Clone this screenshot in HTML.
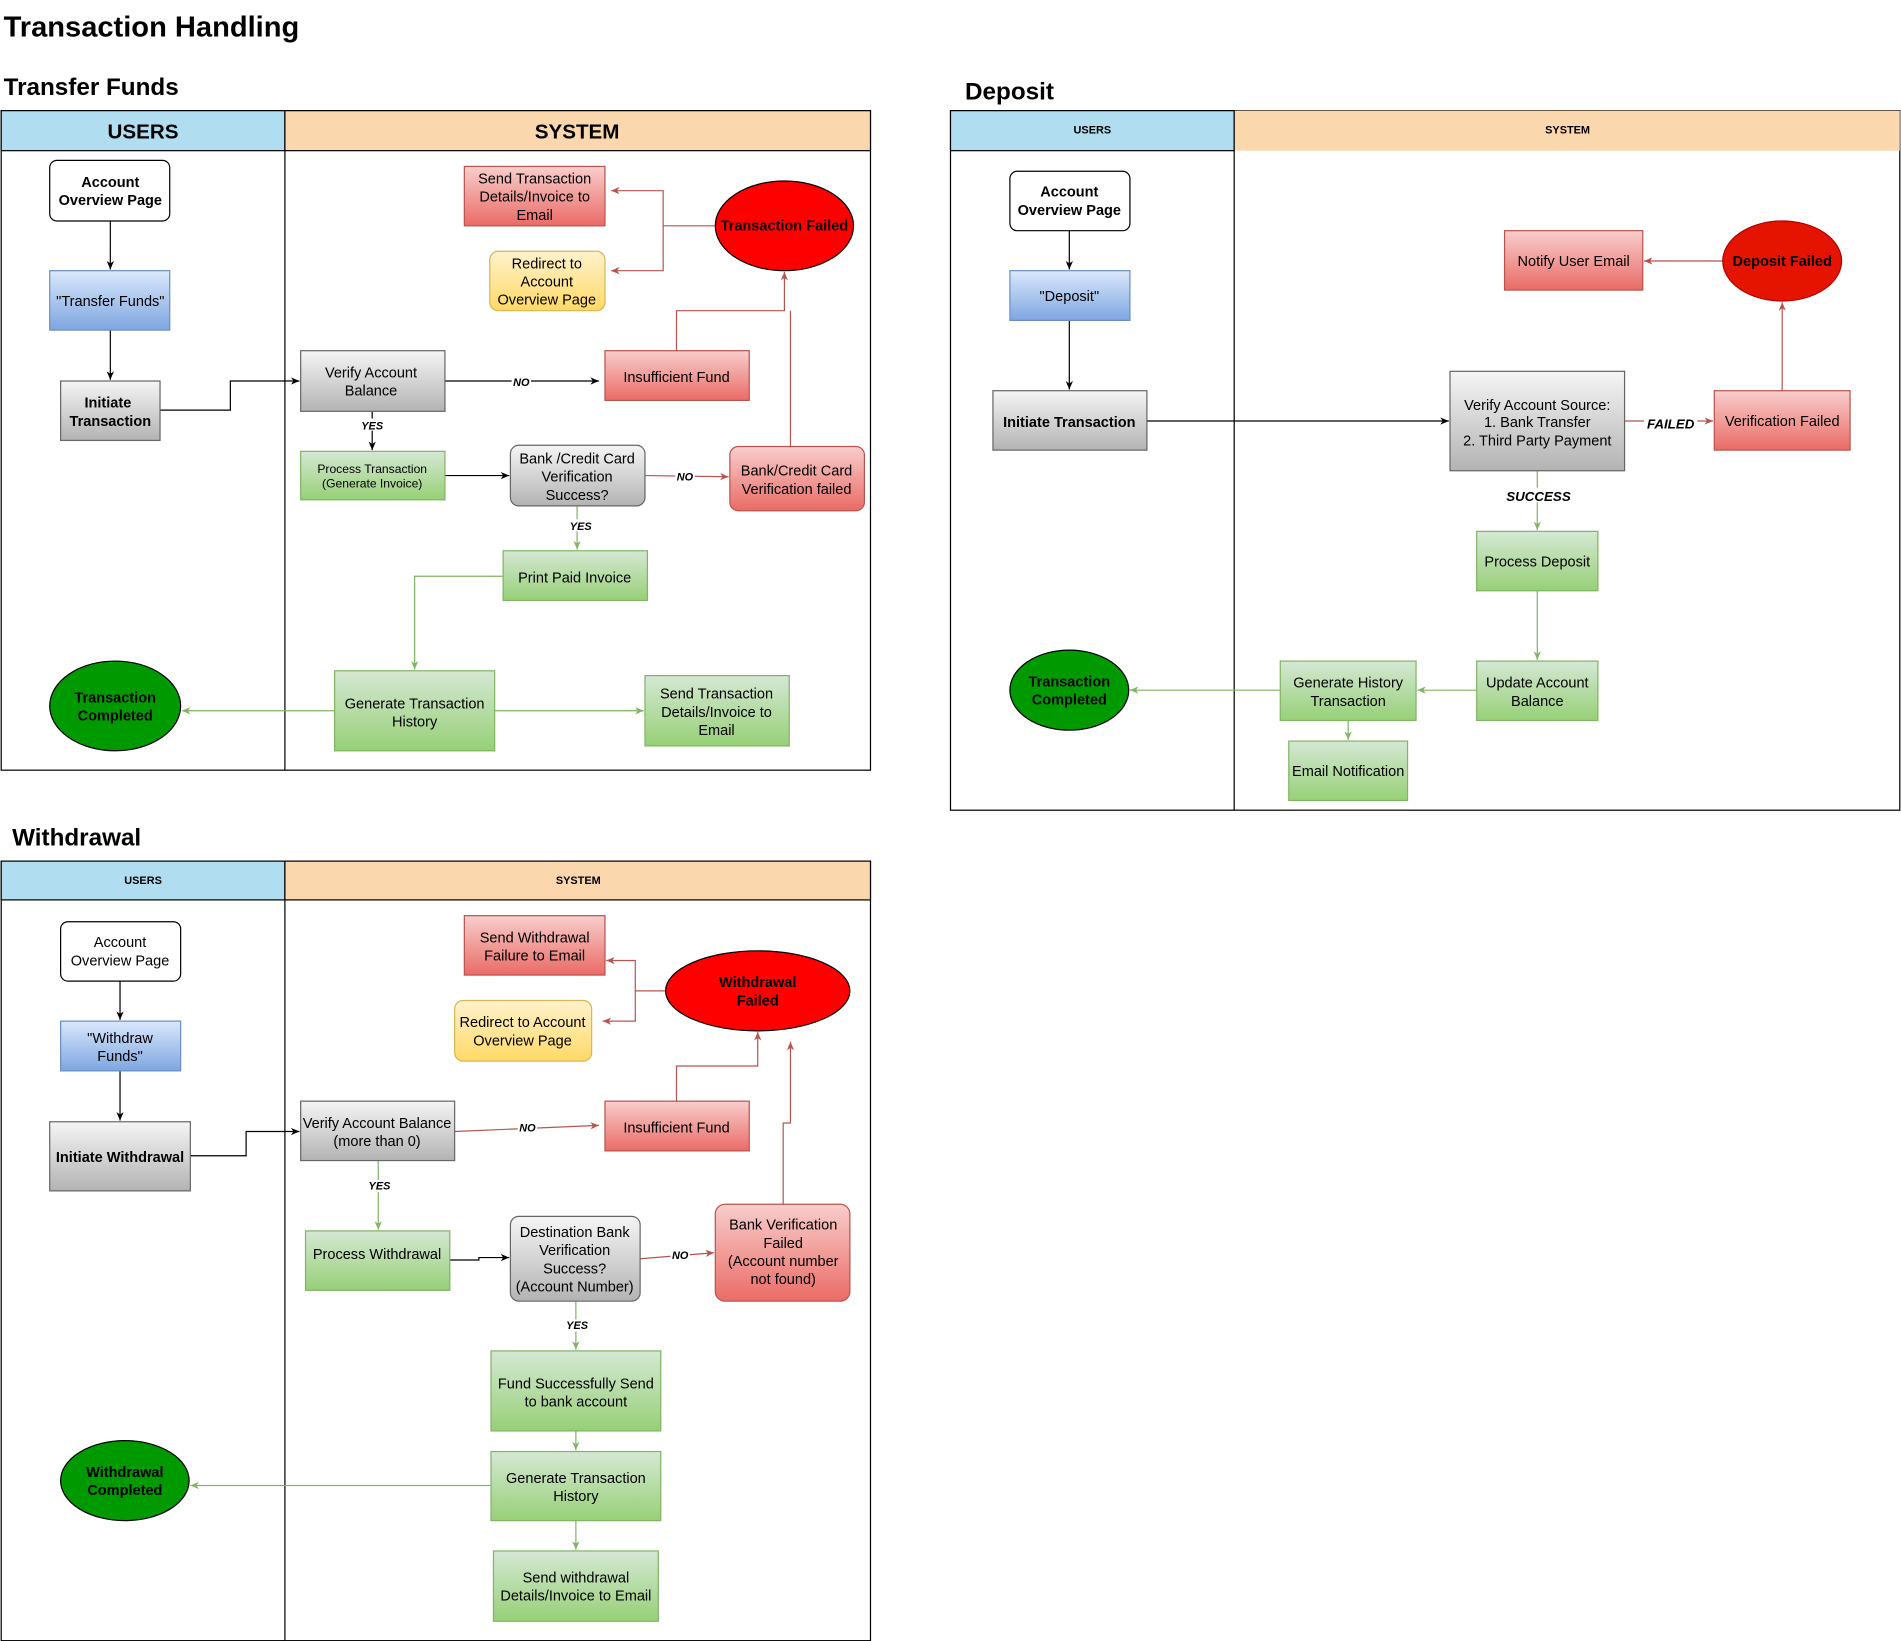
<!DOCTYPE html>
<html><head><meta charset="utf-8"><style>
html,body{margin:0;padding:0;background:#fff}
svg{display:block}
text{font-family:"Liberation Sans",Arial,sans-serif;font-size:12px;fill:#000;text-anchor:middle}
.b{font-weight:bold}
.lb{font-size:9px;font-weight:bold;font-style:italic}
.k{stroke:#000;fill:none;stroke-width:1}
.r{stroke:#b85450;fill:none;stroke-width:1}
.g{stroke:#82b366;fill:none;stroke-width:1}
</style></head><body>
<svg width="1901" height="1641" viewBox="0 0 1568 1353" xmlns="http://www.w3.org/2000/svg">
<defs>
<linearGradient id="gy" x1="0" y1="0" x2="0" y2="1"><stop offset="0" stop-color="#f5f5f5"/><stop offset="1" stop-color="#b3b3b3"/></linearGradient>
<linearGradient id="gg" x1="0" y1="0" x2="0" y2="1"><stop offset="0" stop-color="#d5e8d4"/><stop offset="1" stop-color="#97d077"/></linearGradient>
<linearGradient id="gr" x1="0" y1="0" x2="0" y2="1"><stop offset="0" stop-color="#f8cecc"/><stop offset="1" stop-color="#ea6b66"/></linearGradient>
<linearGradient id="gb" x1="0" y1="0" x2="0" y2="1"><stop offset="0" stop-color="#dae8fc"/><stop offset="1" stop-color="#7ea6e0"/></linearGradient>
<linearGradient id="gyl" x1="0" y1="0" x2="0" y2="1"><stop offset="0" stop-color="#fff2cc"/><stop offset="1" stop-color="#ffd966"/></linearGradient>
<marker id="ak" markerWidth="8" markerHeight="8" refX="7" refY="4" orient="auto" markerUnits="userSpaceOnUse"><path d="M0,1 L7,4 L0,7 L2,4z" fill="#000"/></marker>
<marker id="ar" markerWidth="8" markerHeight="8" refX="7" refY="4" orient="auto" markerUnits="userSpaceOnUse"><path d="M0,1 L7,4 L0,7 L2,4z" fill="#b85450"/></marker>
<marker id="ag" markerWidth="8" markerHeight="8" refX="7" refY="4" orient="auto" markerUnits="userSpaceOnUse"><path d="M0,1 L7,4 L0,7 L2,4z" fill="#82b366"/></marker>
</defs>

<text x="3" y="30" class="b" style="font-size:24px;text-anchor:start">Transaction Handling</text>
<text x="3" y="78" class="b" style="font-size:20px;text-anchor:start">Transfer Funds</text>
<text x="796" y="82" class="b" style="font-size:20px;text-anchor:start">Deposit</text>
<text x="10" y="697" class="b" style="font-size:20px;text-anchor:start">Withdrawal</text>

<!-- pools -->
<g stroke="#000" stroke-width="1">
<rect x="1" y="91" width="717" height="544" fill="#fff"/>
<rect x="1" y="91" width="234" height="33" fill="#b1ddf0"/>
<rect x="235" y="91" width="483" height="33" fill="#fad7ac"/>
<line x1="235" y1="124" x2="235" y2="635"/>
<rect x="784" y="91" width="783" height="577" fill="#fff"/>
<rect x="784" y="91" width="234" height="33" fill="#b1ddf0"/>
<rect x="1018" y="91" width="549" height="33" fill="#fad7ac" stroke="none"/>
<line x1="1018" y1="91" x2="1018" y2="668"/>
<rect x="1" y="710" width="717" height="643" fill="#fff"/>
<rect x="1" y="710" width="234" height="32" fill="#b1ddf0"/>
<rect x="235" y="710" width="483" height="32" fill="#fad7ac"/>
<line x1="235" y1="742" x2="235" y2="1353"/>
</g>
<text x="118" y="114" class="b" style="font-size:17px">USERS</text>
<text x="476" y="114" class="b" style="font-size:17px">SYSTEM</text>
<text x="901" y="110" class="b" style="font-size:9px">USERS</text>
<text x="1293" y="110" class="b" style="font-size:9px">SYSTEM</text>
<text x="118" y="729" class="b" style="font-size:9px">USERS</text>
<text x="477" y="729" class="b" style="font-size:9px">SYSTEM</text>

<!-- ===== TRANSFER edges ===== -->
<path class="k" d="M91,182V222" marker-end="url(#ak)"/>
<path class="k" d="M91,272V313" marker-end="url(#ak)"/>
<path class="k" d="M132,338H190V314H247" marker-end="url(#ak)"/>
<path class="k" d="M367,314H494" marker-end="url(#ak)"/>
<path class="k" d="M307,339V371" marker-end="url(#ak)"/>
<path class="k" d="M367,392H420" marker-end="url(#ak)"/>
<path class="r" d="M532,392L601,393" marker-end="url(#ar)"/>
<path class="g" d="M476,417V453" marker-end="url(#ag)"/>
<path class="g" d="M415,475H342V552" marker-end="url(#ag)"/>
<path class="g" d="M276,586H150" marker-end="url(#ag)"/>
<path class="g" d="M408,586H531" marker-end="url(#ag)"/>
<path class="r" d="M558,289V256H647V224" marker-end="url(#ar)"/>
<path class="r" d="M652,368V256"/>
<path class="r" d="M590,186H547V157H504" marker-end="url(#ar)"/>
<path class="r" d="M547,186V223H504" marker-end="url(#ar)"/>
<rect x="422" y="309" width="16" height="10" fill="#fff"/><text x="430" y="318" class="lb">NO</text>
<rect x="297" y="345" width="20" height="10" fill="#fff"/><text x="307" y="354" class="lb">YES</text>
<rect x="557" y="388" width="16" height="10" fill="#fff"/><text x="565" y="396" class="lb">NO</text>
<rect x="469" y="428" width="20" height="10" fill="#fff"/><text x="479" y="437" class="lb">YES</text>

<!-- TRANSFER nodes -->
<rect x="41" y="132" width="99" height="50" rx="6" fill="#fff" stroke="#000"/>
<text x="91" y="154" class="b">Account</text><text x="91" y="169" class="b">Overview Page</text>
<rect x="41" y="223" width="99" height="49" fill="url(#gb)" stroke="#6c8ebf"/>
<text x="91" y="252">"Transfer Funds"</text>
<rect x="50" y="314" width="82" height="49" fill="url(#gy)" stroke="#666"/>
<text x="89" y="336" class="b">Initiate</text><text x="91" y="351" class="b">Transaction</text>
<rect x="248" y="289" width="119" height="50" fill="url(#gy)" stroke="#666"/>
<text x="306" y="311">Verify Account</text><text x="306" y="326">Balance</text>
<rect x="499" y="289" width="119" height="41" fill="url(#gr)" stroke="#b85450"/>
<text x="558" y="315">Insufficient Fund</text>
<rect x="248" y="372" width="119" height="40" fill="url(#gg)" stroke="#82b366"/>
<text x="307" y="390" style="font-size:10px">Process Transaction</text><text x="307" y="402" style="font-size:10px">(Generate Invoice)</text>
<rect x="421" y="367" width="111" height="50" rx="7" fill="url(#gy)" stroke="#666"/>
<text x="476" y="382">Bank /Credit Card</text><text x="476" y="397">Verification</text><text x="476" y="412">Success?</text>
<rect x="602" y="368" width="111" height="53" rx="7" fill="url(#gr)" stroke="#b85450"/>
<text x="657" y="392">Bank/Credit Card</text><text x="657" y="407">Verification failed</text>
<rect x="415" y="454" width="119" height="41" fill="url(#gg)" stroke="#82b366"/>
<text x="474" y="480">Print Paid Invoice</text>
<rect x="276" y="553" width="132" height="66" fill="url(#gg)" stroke="#82b366"/>
<text x="342" y="584">Generate Transaction</text><text x="342" y="599">History</text>
<rect x="532" y="557" width="119" height="58" fill="url(#gg)" stroke="#82b366"/>
<text x="591" y="576">Send Transaction</text><text x="591" y="591">Details/Invoice to</text><text x="591" y="606">Email</text>
<ellipse cx="95" cy="582" rx="54" ry="37" fill="#009900" stroke="#000"/>
<text x="95" y="579" class="b">Transaction</text><text x="95" y="594" class="b">Completed</text>
<rect x="383" y="137" width="116" height="49" fill="url(#gr)" stroke="#b85450"/>
<text x="441" y="151">Send Transaction</text><text x="441" y="166">Details/Invoice to</text><text x="441" y="181">Email</text>
<rect x="404" y="207" width="95" height="49" rx="7" fill="url(#gyl)" stroke="#d6b656"/>
<text x="451" y="221">Redirect to</text><text x="451" y="236">Account</text><text x="451" y="251">Overview Page</text>
<ellipse cx="647" cy="186" rx="57" ry="37" fill="#ff0000" stroke="#000"/>
<text x="647" y="190" class="b">Transaction Failed</text>

<!-- ===== DEPOSIT ===== -->
<path class="k" d="M882,190V222" marker-end="url(#ak)"/>
<path class="k" d="M882,264V321" marker-end="url(#ak)"/>
<path class="k" d="M946,347H1195" marker-end="url(#ak)"/>
<path class="r" d="M1340,347H1413" marker-end="url(#ar)"/>
<path class="r" d="M1470,322V249" marker-end="url(#ar)"/>
<path class="r" d="M1421,215H1356" marker-end="url(#ar)"/>
<path class="g" d="M1268,388V437" marker-end="url(#ag)"/>
<path class="g" d="M1268,487V544" marker-end="url(#ag)"/>
<path class="g" d="M1218,569H1169" marker-end="url(#ag)"/>
<path class="g" d="M1056,569H932" marker-end="url(#ag)"/>
<path class="g" d="M1112,594V610" marker-end="url(#ag)"/>
<rect x="1356" y="343" width="44" height="12" fill="#fff"/><text x="1378" y="353" class="lb" style="font-size:11px">FAILED</text>
<rect x="1240" y="402" width="58" height="12" fill="#fff"/><text x="1269" y="413" class="lb" style="font-size:11px">SUCCESS</text>

<rect x="833" y="141" width="99" height="49" rx="6" fill="#fff" stroke="#000"/>
<text x="882" y="162" class="b">Account</text><text x="882" y="177" class="b">Overview Page</text>
<rect x="833" y="223" width="99" height="41" fill="url(#gb)" stroke="#6c8ebf"/>
<text x="882" y="248">"Deposit"</text>
<rect x="819" y="322" width="127" height="49" fill="url(#gy)" stroke="#666"/>
<text x="882" y="352" class="b">Initiate Transaction</text>
<rect x="1196" y="306" width="144" height="82" fill="url(#gy)" stroke="#666"/>
<text x="1268" y="338">Verify Account Source:</text><text x="1268" y="352">1. Bank Transfer</text><text x="1268" y="367">2. Third Party Payment</text>
<rect x="1414" y="322" width="112" height="49" fill="url(#gr)" stroke="#b85450"/>
<text x="1470" y="351">Verification Failed</text>
<ellipse cx="1470" cy="215" rx="49" ry="33" fill="#e51400" stroke="#b20000"/>
<text x="1470" y="219" class="b">Deposit Failed</text>
<rect x="1241" y="190" width="114" height="49" fill="url(#gr)" stroke="#b85450"/>
<text x="1298" y="219">Notify User Email</text>
<rect x="1218" y="438" width="100" height="49" fill="url(#gg)" stroke="#82b366"/>
<text x="1268" y="467">Process Deposit</text>
<rect x="1218" y="545" width="100" height="49" fill="url(#gg)" stroke="#82b366"/>
<text x="1268" y="567">Update Account</text><text x="1268" y="582">Balance</text>
<rect x="1056" y="545" width="112" height="49" fill="url(#gg)" stroke="#82b366"/>
<text x="1112" y="567">Generate History</text><text x="1112" y="582">Transaction</text>
<rect x="1063" y="611" width="98" height="49" fill="url(#gg)" stroke="#82b366"/>
<text x="1112" y="640">Email Notification</text>
<ellipse cx="882" cy="569" rx="49" ry="33" fill="#009900" stroke="#000"/>
<text x="882" y="566" class="b">Transaction</text><text x="882" y="581" class="b">Completed</text>

<!-- ===== WITHDRAWAL ===== -->
<path class="k" d="M99,809V841" marker-end="url(#ak)"/>
<path class="k" d="M99,883V924" marker-end="url(#ak)"/>
<path class="k" d="M157,953H203V933H247" marker-end="url(#ak)"/>
<path class="r" d="M375,933L494,928" marker-end="url(#ar)"/>
<path class="g" d="M312,957V1014" marker-end="url(#ag)"/>
<path class="k" d="M371,1039H395V1037H420" marker-end="url(#ak)"/>
<path class="r" d="M528,1038L589,1033" marker-end="url(#ar)"/>
<path class="g" d="M475,1073V1113" marker-end="url(#ag)"/>
<path class="g" d="M475,1180V1196" marker-end="url(#ag)"/>
<path class="g" d="M475,1254V1278" marker-end="url(#ag)"/>
<path class="g" d="M405,1225H157" marker-end="url(#ag)"/>
<path class="r" d="M558,908V879H625V851" marker-end="url(#ar)"/>
<path class="r" d="M646,993V926H652V859" marker-end="url(#ar)"/>
<path class="r" d="M549,817H524V792H500" marker-end="url(#ar)"/>
<path class="r" d="M524,817V842H497" marker-end="url(#ar)"/>
<rect x="427" y="925" width="16" height="10" fill="#fff"/><text x="435" y="933" class="lb">NO</text>
<rect x="303" y="973" width="20" height="10" fill="#fff"/><text x="313" y="981" class="lb">YES</text>
<rect x="553" y="1030" width="16" height="10" fill="#fff"/><text x="561" y="1038" class="lb">NO</text>
<rect x="466" y="1088" width="20" height="10" fill="#fff"/><text x="476" y="1096" class="lb">YES</text>

<rect x="50" y="760" width="99" height="49" rx="6" fill="#fff" stroke="#000"/>
<text x="99" y="781">Account</text><text x="99" y="796">Overview Page</text>
<rect x="50" y="842" width="99" height="41" fill="url(#gb)" stroke="#6c8ebf"/>
<text x="99" y="860">"Withdraw</text><text x="99" y="875">Funds"</text>
<rect x="41" y="925" width="116" height="57" fill="url(#gy)" stroke="#666"/>
<text x="99" y="958" class="b">Initiate Withdrawal</text>
<rect x="248" y="908" width="127" height="49" fill="url(#gy)" stroke="#666"/>
<text x="311" y="930">Verify Account Balance</text><text x="311" y="945">(more than 0)</text>
<rect x="499" y="908" width="119" height="41" fill="url(#gr)" stroke="#b85450"/>
<text x="558" y="934">Insufficient Fund</text>
<rect x="252" y="1015" width="119" height="49" fill="url(#gg)" stroke="#82b366"/>
<text x="311" y="1038">Process Withdrawal</text>
<rect x="421" y="1003" width="107" height="70" rx="7" fill="url(#gy)" stroke="#666"/>
<text x="474" y="1020">Destination Bank</text><text x="474" y="1035">Verification</text><text x="474" y="1050">Success?</text><text x="474" y="1065">(Account Number)</text>
<rect x="590" y="993" width="111" height="80" rx="8" fill="url(#gr)" stroke="#b85450"/>
<text x="646" y="1014">Bank Verification</text><text x="646" y="1029">Failed</text><text x="646" y="1044">(Account number</text><text x="646" y="1059">not found)</text>
<rect x="405" y="1114" width="140" height="66" fill="url(#gg)" stroke="#82b366"/>
<text x="475" y="1145">Fund Successfully Send</text><text x="475" y="1160">to bank account</text>
<rect x="405" y="1197" width="140" height="57" fill="url(#gg)" stroke="#82b366"/>
<text x="475" y="1223">Generate Transaction</text><text x="475" y="1238">History</text>
<rect x="407" y="1279" width="136" height="58" fill="url(#gg)" stroke="#82b366"/>
<text x="475" y="1305">Send withdrawal</text><text x="475" y="1320">Details/Invoice to Email</text>
<ellipse cx="103" cy="1221" rx="53" ry="33" fill="#009900" stroke="#000"/>
<text x="103" y="1218" class="b">Withdrawal</text><text x="103" y="1233" class="b">Completed</text>
<rect x="383" y="755" width="116" height="49" fill="url(#gr)" stroke="#b85450"/>
<text x="441" y="777">Send Withdrawal</text><text x="441" y="792">Failure to Email</text>
<rect x="375" y="825" width="113" height="50" rx="7" fill="url(#gyl)" stroke="#d6b656"/>
<text x="431" y="847">Redirect to Account</text><text x="431" y="862">Overview Page</text>
<ellipse cx="625" cy="817" rx="76" ry="33" fill="#ff0000" stroke="#000"/>
<text x="625" y="814" class="b">Withdrawal</text><text x="625" y="829" class="b">Failed</text>
</svg>
</body></html>
